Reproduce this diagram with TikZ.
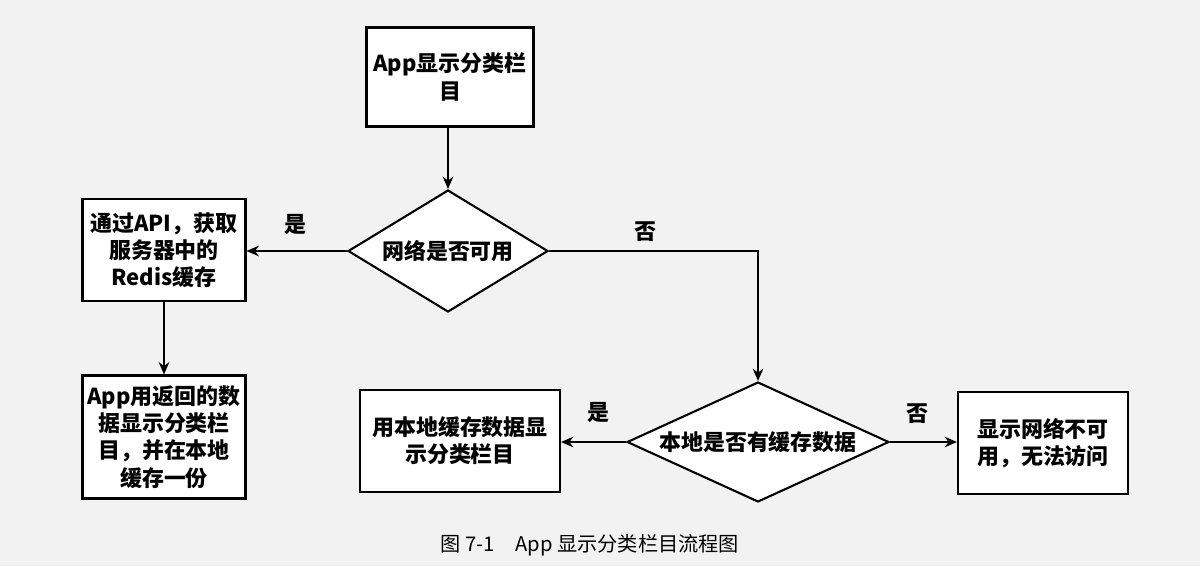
\documentclass[tikz,border=0pt]{standalone}
\usepackage{fontspec}
\setmainfont{Noto Sans CJK SC}
\usetikzlibrary{shapes.geometric,arrows.meta}
\begin{document}
\begin{tikzpicture}[x=0.02cm,y=-0.02cm,
  box/.style={draw,line width=1.2pt,fill=white,align=center,font=\bfseries\fontsize{12.5}{15.5}\selectfont,inner sep=2pt},
  dia/.style={draw,line width=1.2pt,fill=white,diamond,aspect=2,font=\bfseries\fontsize{12.5}{15}\selectfont,inner sep=0pt},
  arr/.style={-{Stealth[length=7pt,width=6pt]},line width=1.1pt},
  lab/.style={font=\bfseries\fontsize{12.5}{14}\selectfont}]
\fill[gray!10] (0,0) rectangle (1200,566);
\useasboundingbox (0,0) rectangle (1200,566);
\node[box,minimum width=3.34cm,minimum height=1.98cm] (start) at (450,77) {App显示分类栏\\目};
\node[dia,minimum width=4cm,minimum height=2.44cm] (net) at (448,251) {网络是否可用};
\node[box,minimum width=3.26cm,minimum height=2.04cm] (api) at (164,250) {通过API，获取\\服务器中的\\Redis缓存};
\node[box,minimum width=3.26cm,minimum height=2.46cm] (ret) at (164,437) {App用返回的数\\据显示分类栏\\目，并在本地\\缓存一份};
\node[dia,minimum width=5.24cm,minimum height=2.16cm] (loc) at (758,442) {本地是否有缓存数据};
\node[box,minimum width=4cm,minimum height=2.04cm] (use) at (460,441) {用本地缓存数据显\\示分类栏目};
\node[box,minimum width=3.4cm,minimum height=2.04cm] (no) at (1043,443) {显示网络不可\\用，无法访问};
\coordinate (c1) at (net.east -| loc.north);
\draw[arr] (start.south -| net.north) -- (net.north);
\draw[arr] (net.west) -- (api.east |- net.west);
\draw[arr] (net.east) -- (c1) -- (loc.north);
\draw[arr] (api) -- (ret);
\draw[arr] (loc.west) -- (use.east |- loc.west);
\draw[arr] (loc.east) -- (no.west |- loc.east);
\node[lab] (l1) at (295,224) {是};
\node[lab] (l2) at (645,232) {否};
\node[lab] (l3) at (598,412) {是};
\node[lab] (l4) at (917,414) {否};
\node[font=\fontsize{11.5}{13}\selectfont] (cap) at (590,545) {图 7-1\quad App 显示分类栏目流程图};
\end{tikzpicture}
\end{document}
